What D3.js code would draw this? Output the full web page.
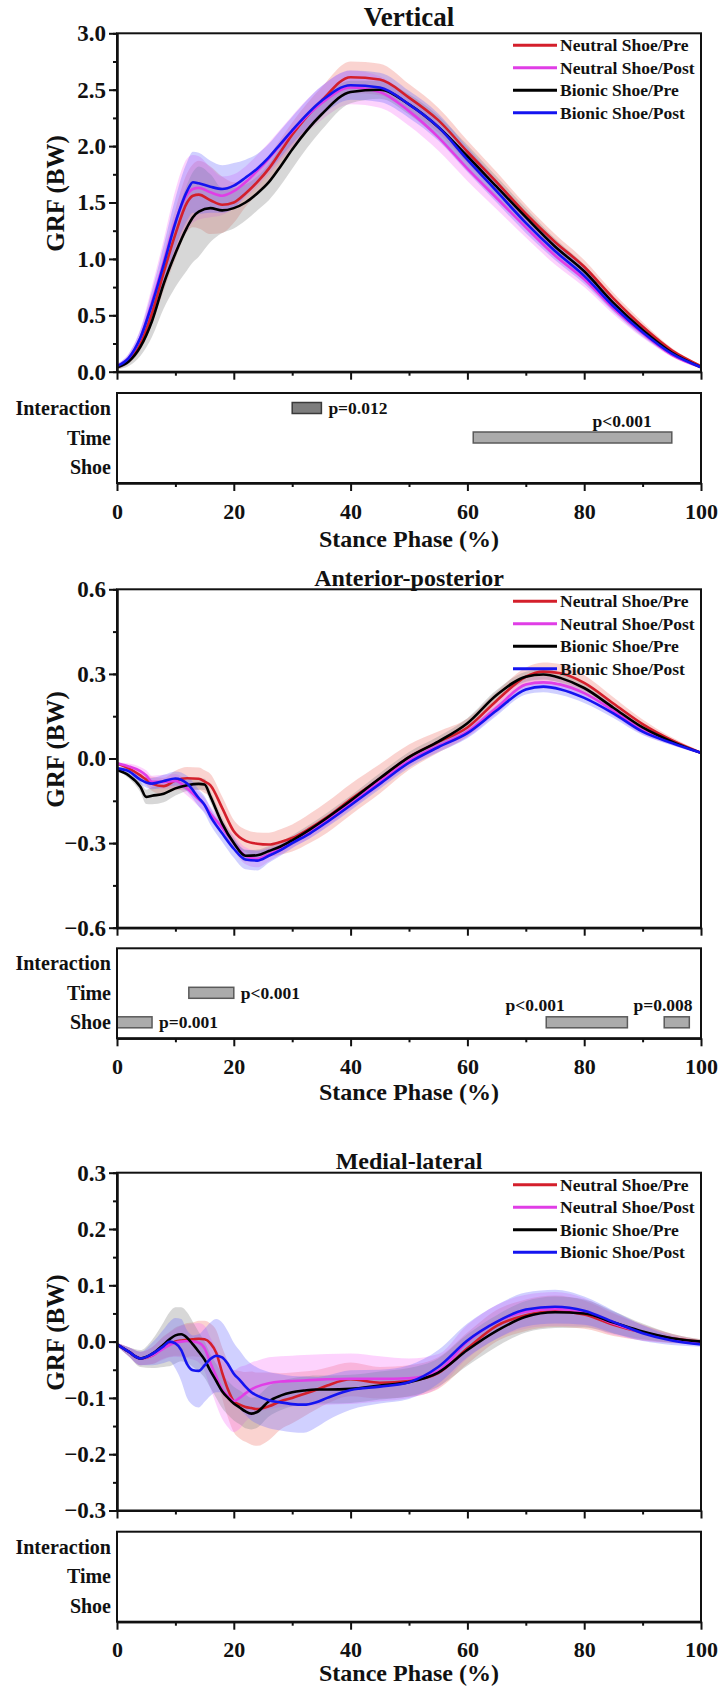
<!DOCTYPE html>
<html>
<head>
<meta charset="utf-8">
<script src="https://cdn.jsdelivr.net/npm/d3@7"></script>
<style>
  body { margin: 0; background: #fff; }
  svg text { font-family: "Liberation Serif", "Times New Roman", serif; font-weight: bold; fill: #111; }
</style>
</head>
<body>
<div id="chart"></div>
<script>
// ---- data ----
const seriesNames = ["Neutral Shoe/Pre", "Neutral Shoe/Post", "Bionic Shoe/Pre", "Bionic Shoe/Post"]
const statRows = ["Interaction", "Time", "Shoe"]
const xTicks = [0, 20, 40, 60, 80, 100]
const xMinorTicks = [10, 30, 50, 70, 90]

// Vertical
const phaseV = [0,2,4,6,8,10,12,13,14,16,18,20,22,24,26,28,30,35,40,45,50,55,60,65,70,75,80,85,90,95,100]
const vNeutralPre   = [0.04,0.10,0.25,0.52,0.88,1.22,1.50,1.56,1.57,1.52,1.48,1.50,1.58,1.68,1.80,1.95,2.10,2.40,2.61,2.59,2.43,2.23,1.95,1.68,1.40,1.15,0.93,0.65,0.40,0.19,0.05]
const vNeutralPost  = [0.05,0.12,0.30,0.62,0.97,1.33,1.57,1.62,1.63,1.59,1.56,1.60,1.68,1.78,1.89,2.01,2.13,2.38,2.52,2.48,2.31,2.08,1.80,1.54,1.28,1.03,0.82,0.56,0.34,0.15,0.04]
const vBionicPre    = [0.04,0.09,0.22,0.45,0.78,1.05,1.28,1.37,1.42,1.45,1.43,1.45,1.50,1.58,1.68,1.82,1.97,2.28,2.48,2.50,2.37,2.17,1.91,1.64,1.37,1.11,0.89,0.61,0.37,0.17,0.04]
const vBionicPost   = [0.05,0.12,0.30,0.60,0.95,1.32,1.60,1.68,1.67,1.64,1.62,1.65,1.72,1.80,1.90,2.02,2.14,2.40,2.54,2.52,2.37,2.17,1.88,1.60,1.32,1.07,0.85,0.58,0.35,0.16,0.04]
const vNeutralPreSD  = [0.02,0.03,0.06,0.10,0.16,0.22,0.26,0.28,0.30,0.30,0.25,0.18,0.12,0.11,0.11,0.11,0.11,0.12,0.14,0.14,0.12,0.11,0.10,0.09,0.08,0.07,0.06,0.05,0.04,0.02,0.01]
const vNeutralPostSD = [0.02,0.04,0.08,0.14,0.20,0.28,0.32,0.30,0.28,0.22,0.17,0.15,0.14,0.14,0.14,0.14,0.14,0.15,0.15,0.14,0.13,0.12,0.11,0.10,0.09,0.08,0.07,0.05,0.04,0.02,0.01]
const vBionicPreSD   = [0.02,0.04,0.08,0.14,0.22,0.30,0.38,0.40,0.40,0.30,0.20,0.18,0.16,0.15,0.16,0.17,0.17,0.14,0.10,0.08,0.09,0.10,0.10,0.09,0.08,0.07,0.06,0.05,0.04,0.02,0.01]
const vBionicPostSD  = [0.02,0.04,0.07,0.12,0.17,0.22,0.26,0.27,0.27,0.23,0.21,0.20,0.16,0.13,0.12,0.12,0.12,0.13,0.13,0.13,0.12,0.12,0.11,0.10,0.09,0.08,0.07,0.05,0.04,0.02,0.01]
const vTicks = [0, 0.5, 1, 1.5, 2, 2.5, 3]

// Anterior-posterior
const phaseAP = [0,2,4,5,6,8,10,12,14,15,16,18,20,22,24,26,28,30,33,36,40,45,50,55,60,65,70,73,76,80,85,90,95,100]
const apNeutralPre  = [-0.018,-0.035,-0.060,-0.075,-0.090,-0.098,-0.078,-0.070,-0.072,-0.082,-0.095,-0.175,-0.258,-0.292,-0.302,-0.305,-0.296,-0.282,-0.248,-0.208,-0.145,-0.072,0.005,0.058,0.110,0.205,0.290,0.308,0.302,0.268,0.195,0.122,0.065,0.020]
const apNeutralPost = [-0.018,-0.028,-0.045,-0.060,-0.083,-0.083,-0.080,-0.106,-0.145,-0.165,-0.195,-0.245,-0.300,-0.345,-0.356,-0.340,-0.320,-0.296,-0.262,-0.220,-0.160,-0.082,-0.008,0.045,0.095,0.180,0.262,0.270,0.262,0.232,0.170,0.100,0.058,0.020]
const apBionicPre   = [-0.040,-0.060,-0.100,-0.136,-0.132,-0.125,-0.106,-0.095,-0.090,-0.092,-0.135,-0.230,-0.300,-0.345,-0.343,-0.328,-0.312,-0.290,-0.252,-0.210,-0.150,-0.070,0.005,0.060,0.125,0.225,0.290,0.298,0.285,0.250,0.180,0.110,0.060,0.020]
const apBionicPost  = [-0.035,-0.045,-0.075,-0.085,-0.089,-0.080,-0.071,-0.089,-0.140,-0.165,-0.205,-0.265,-0.320,-0.358,-0.362,-0.345,-0.325,-0.300,-0.266,-0.225,-0.166,-0.090,-0.015,0.040,0.090,0.170,0.245,0.255,0.245,0.215,0.160,0.095,0.055,0.020]
const apNeutralPreSD  = [0.005,0.010,0.015,0.020,0.025,0.030,0.035,0.040,0.040,0.040,0.040,0.040,0.040,0.040,0.040,0.042,0.045,0.048,0.052,0.055,0.055,0.052,0.045,0.038,0.032,0.032,0.032,0.032,0.032,0.028,0.022,0.016,0.010,0.005]
const apNeutralPostSD = [0.005,0.010,0.015,0.018,0.022,0.025,0.025,0.025,0.025,0.025,0.025,0.025,0.028,0.030,0.030,0.025,0.020,0.020,0.020,0.020,0.020,0.020,0.020,0.020,0.020,0.022,0.022,0.022,0.022,0.020,0.018,0.014,0.010,0.005]
const apBionicPreSD   = [0.005,0.010,0.020,0.025,0.030,0.030,0.025,0.020,0.020,0.020,0.020,0.020,0.020,0.020,0.020,0.018,0.018,0.018,0.018,0.018,0.018,0.018,0.018,0.018,0.018,0.018,0.018,0.018,0.018,0.018,0.015,0.012,0.008,0.004]
const apBionicPostSD  = [0.005,0.010,0.015,0.018,0.020,0.022,0.025,0.028,0.030,0.030,0.030,0.030,0.032,0.035,0.035,0.025,0.020,0.018,0.018,0.018,0.018,0.018,0.018,0.018,0.018,0.018,0.018,0.020,0.020,0.018,0.016,0.012,0.008,0.004]
const apTicks = [-0.6, -0.3, 0, 0.3, 0.6]

// Medial-lateral
const phaseML = [0,2,4,6,8,9,10,11,12,13,14,15,16,17,18,19,20,21,22,23,24,26,28,30,32,34,36,40,45,50,55,60,65,70,75,80,85,90,95,100]
const mlNeutralPre  = [-0.005,-0.018,-0.030,-0.025,-0.010,-0.005,0.000,0.002,0.003,0.004,0.005,0.004,-0.003,-0.020,-0.055,-0.085,-0.106,-0.112,-0.116,-0.118,-0.120,-0.115,-0.106,-0.100,-0.093,-0.086,-0.078,-0.067,-0.073,-0.070,-0.056,-0.012,0.028,0.047,0.054,0.048,0.030,0.016,0.006,0.000]
const mlNeutralPost = [-0.005,-0.018,-0.030,-0.025,-0.012,-0.006,-0.002,0.000,0.001,0.000,-0.002,-0.012,-0.038,-0.062,-0.085,-0.097,-0.106,-0.100,-0.092,-0.085,-0.080,-0.074,-0.071,-0.070,-0.069,-0.068,-0.067,-0.066,-0.066,-0.065,-0.052,0.000,0.035,0.053,0.058,0.052,0.032,0.016,0.005,-0.002]
const mlBionicPre   = [-0.005,-0.018,-0.030,-0.022,-0.005,0.004,0.011,0.013,0.007,-0.005,-0.018,-0.032,-0.052,-0.070,-0.088,-0.100,-0.110,-0.117,-0.124,-0.128,-0.125,-0.106,-0.096,-0.090,-0.087,-0.085,-0.085,-0.084,-0.078,-0.072,-0.055,-0.015,0.019,0.044,0.052,0.050,0.034,0.018,0.006,0.000]
const mlBionicPost  = [-0.005,-0.018,-0.030,-0.022,-0.008,0.000,-0.003,-0.015,-0.040,-0.051,-0.052,-0.042,-0.031,-0.025,-0.028,-0.040,-0.057,-0.068,-0.080,-0.090,-0.096,-0.104,-0.108,-0.111,-0.112,-0.108,-0.100,-0.086,-0.080,-0.072,-0.045,0.002,0.035,0.057,0.062,0.055,0.035,0.015,0.002,-0.005]
const mlNeutralPreSD  = [0.003,0.008,0.012,0.015,0.020,0.022,0.025,0.027,0.030,0.030,0.032,0.033,0.035,0.040,0.045,0.050,0.055,0.060,0.062,0.065,0.065,0.060,0.050,0.045,0.040,0.035,0.032,0.030,0.028,0.028,0.028,0.028,0.028,0.028,0.028,0.025,0.020,0.014,0.008,0.004]
const mlNeutralPostSD = [0.003,0.008,0.012,0.015,0.020,0.022,0.025,0.028,0.030,0.032,0.035,0.040,0.045,0.050,0.052,0.055,0.055,0.055,0.050,0.048,0.046,0.046,0.045,0.045,0.045,0.045,0.045,0.045,0.040,0.035,0.030,0.030,0.030,0.030,0.030,0.025,0.020,0.014,0.008,0.004]
const mlBionicPreSD   = [0.003,0.008,0.015,0.025,0.040,0.048,0.050,0.048,0.045,0.040,0.035,0.032,0.030,0.030,0.030,0.030,0.030,0.030,0.030,0.028,0.028,0.027,0.026,0.025,0.025,0.025,0.025,0.025,0.025,0.025,0.025,0.028,0.028,0.028,0.028,0.025,0.020,0.014,0.008,0.004]
const mlBionicPostSD  = [0.003,0.008,0.012,0.020,0.030,0.035,0.045,0.055,0.060,0.062,0.065,0.065,0.065,0.065,0.062,0.058,0.055,0.052,0.050,0.050,0.050,0.050,0.050,0.050,0.050,0.045,0.040,0.035,0.030,0.030,0.030,0.030,0.030,0.030,0.030,0.025,0.020,0.014,0.008,0.004]
const mlTicks = [-0.3, -0.2, -0.1, 0, 0.1, 0.2, 0.3]

// SPM significance clusters (stance %)
const vertStats = [
    {row: "Interaction", from: 30, to: 35, p: "p=0.012", dark: true, place: "right"},
    {row: "Time", from: 61, to: 95, p: "p<0.001", place: "above", labelAt: 86.5}
]
const apStats = [
    {row: "Time", from: 12.3, to: 20, p: "p<0.001", place: "right"},
    {row: "Shoe", from: 0, to: 6, p: "p=0.001", place: "right"},
    {row: "Shoe", from: 73.5, to: 87.4, p: "p<0.001", place: "above", labelAt: 71.6},
    {row: "Shoe", from: 93.7, to: 98, p: "p=0.008", place: "above", labelAt: 93.5}
]
const mlStats = []

// ---- styling ----
const lineColours = ["#d41f2b", "#e03ee6", "#000000", "#1414f0"]
const bandColours = ["rgba(240,110,100,0.30)", "rgba(250,110,250,0.30)", "rgba(140,140,140,0.35)", "rgba(100,100,255,0.30)"]

const svg = d3.select("#chart").append("svg")
    .attr("width", 718).attr("height", 1688)

const xScale = d3.scaleLinear().domain([0, 100]).range([117, 701])

function drawPanel(cfg) {
    const g = svg.append("g")
    const yScale = d3.scaleLinear().domain(cfg.domain).range([cfg.bottom, cfg.top])

    // bands then mean lines
    const series = cfg.means.map(function (m, i) {
        return cfg.phase.map(function (p, j) { return {p: p, m: m[j], sd: cfg.sds[i][j]} })
    })
    const area = d3.area()
        .x(function (d) { return xScale(d.p) })
        .y0(function (d) { return yScale(d.m - d.sd) })
        .y1(function (d) { return yScale(d.m + d.sd) })
        .curve(d3.curveMonotoneX)
    const line = d3.line()
        .x(function (d) { return xScale(d.p) })
        .y(function (d) { return yScale(d.m) })
        .curve(d3.curveMonotoneX)

    g.selectAll(".band").data(series).enter().append("path")
        .attr("d", area)
        .style("fill", function (d, i) { return bandColours[i] })
        .style("stroke", "none")
    g.selectAll(".mean").data(series).enter().append("path")
        .attr("d", line)
        .style("fill", "none")
        .style("stroke", function (d, i) { return lineColours[i] })
        .style("stroke-width", 2.6)

    // frame
    g.append("rect")
        .attr("x", 117).attr("y", cfg.top)
        .attr("width", 584).attr("height", cfg.bottom - cfg.top)
        .style("fill", "none").style("stroke", "#111").style("stroke-width", 2)

    // y axis
    const minor = d3.range(cfg.domain[0], cfg.domain[1] + 1e-9, cfg.minorStep)
    const yAxis = g.append("g").attr("transform", "translate(117,0)")
        .call(d3.axisLeft(yScale).tickValues(cfg.ticks).tickSize(8).tickSizeOuter(0).tickPadding(3)
            .tickFormat(d3.format(".1f")))
    g.append("g").attr("transform", "translate(117,0)")
        .call(d3.axisLeft(yScale).tickValues(minor).tickSize(4).tickSizeOuter(0).tickFormat(""))

    // x axis under main plot, no labels
    g.append("g").attr("transform", "translate(0," + cfg.bottom + ")")
        .call(d3.axisBottom(xScale).tickValues(xTicks).tickSize(8).tickSizeOuter(0).tickFormat(""))
    g.append("g").attr("transform", "translate(0," + cfg.bottom + ")")
        .call(d3.axisBottom(xScale).tickValues(xMinorTicks).tickSize(4).tickSizeOuter(0).tickFormat(""))

    g.selectAll(".domain").style("stroke", "#111").style("stroke-width", 2)
    g.selectAll(".tick line").style("stroke", "#111").style("stroke-width", 2)
    yAxis.selectAll("text").style("font-size", "23px").style("fill", "#111")
        .style("font-family", "'Liberation Serif', serif").style("font-weight", "bold")

    // title and y label
    g.append("text").attr("x", 409).attr("y", cfg.top - cfg.titleGap).attr("dy", "0.35em")
        .attr("text-anchor", "middle").style("font-size", cfg.titleSize + "px").text(cfg.title)
    g.append("text")
        .attr("transform", "translate(55," + ((cfg.top + cfg.bottom) / 2 - 9) + ") rotate(-90)")
        .attr("dy", "0.35em").attr("text-anchor", "middle").style("font-size", "25px")
        .text("GRF (BW)")

    // legend
    const leg = g.selectAll(".leg").data(seriesNames).enter().append("g")
        .attr("transform", function (d, i) { return "translate(0," + (cfg.top + 12 + i * 22.5) + ")" })
    leg.append("line").attr("x1", 513).attr("x2", 557)
        .style("stroke", function (d, i) { return lineColours[i] }).style("stroke-width", 3)
    leg.append("text").attr("x", 560).attr("dy", "0.35em").style("font-size", "17.5px")
        .text(function (d) { return d })

    // statistics box
    const rowScale = d3.scalePoint().domain(statRows).range([cfg.statTop + 15, cfg.statTop + 74])
    g.selectAll(".bar").data(cfg.stats).enter().append("rect")
        .attr("x", function (d) { return xScale(d.from) })
        .attr("width", function (d) { return xScale(d.to) - xScale(d.from) })
        .attr("y", function (d) { return rowScale(d.row) - 5.5 })
        .attr("height", 11)
        .style("fill", function (d) { return d.dark ? "#7d7d7d" : "#ababab" })
        .style("stroke", function (d) { return d.dark ? "#3a3a3a" : "#5a5a5a" })
        .style("stroke-width", 1.5)
    g.selectAll(".plab").data(cfg.stats).enter().append("text")
        .attr("x", function (d) { return d.place === "right" ? xScale(d.to) + 7 : xScale(d.labelAt) })
        .attr("y", function (d) { return d.place === "right" ? rowScale(d.row) : rowScale(d.row) - 17 })
        .attr("dy", "0.35em")
        .attr("text-anchor", function (d) { return d.place === "right" ? "start" : "middle" })
        .style("font-size", "17.5px")
        .text(function (d) { return d.p })

    g.selectAll(".rowlab").data(statRows).enter().append("text")
        .attr("x", 111).attr("y", function (d) { return rowScale(d) }).attr("dy", "0.35em")
        .attr("text-anchor", "end").style("font-size", "20px").text(function (d) { return d })

    g.append("rect")
        .attr("x", 117).attr("y", cfg.statTop)
        .attr("width", 584).attr("height", cfg.statBottom - cfg.statTop)
        .style("fill", "none").style("stroke", "#111").style("stroke-width", 2)

    const xAxis = g.append("g").attr("transform", "translate(0," + cfg.statBottom + ")")
        .call(d3.axisBottom(xScale).tickValues(xTicks).tickSize(8).tickSizeOuter(0).tickPadding(12))
    g.append("g").attr("transform", "translate(0," + cfg.statBottom + ")")
        .call(d3.axisBottom(xScale).tickValues(xMinorTicks).tickSize(4).tickSizeOuter(0).tickFormat(""))
    g.selectAll(".domain").style("stroke", "#111").style("stroke-width", 2)
    g.selectAll(".tick line").style("stroke", "#111").style("stroke-width", 2)
    xAxis.selectAll("text").style("font-size", "22px").style("fill", "#111")
        .style("font-family", "'Liberation Serif', serif").style("font-weight", "bold")

    g.append("text").attr("x", 409).attr("y", cfg.statBottom + cfg.xLabelGap)
        .attr("text-anchor", "middle").style("font-size", "24px").text("Stance Phase (%)")
}

drawPanel({
    title: "Vertical", titleSize: 27, titleGap: 17, xLabelGap: 64,
    top: 33.3, bottom: 371.7, statTop: 393, statBottom: 483,
    domain: [0, 3], ticks: vTicks, minorStep: 0.25, phase: phaseV,
    means: [vNeutralPre, vNeutralPost, vBionicPre, vBionicPost],
    sds: [vNeutralPreSD, vNeutralPostSD, vBionicPreSD, vBionicPostSD],
    stats: vertStats
})
drawPanel({
    title: "Anterior-posterior", titleSize: 24, titleGap: 12, xLabelGap: 62,
    top: 589.3, bottom: 927.7, statTop: 948.3, statBottom: 1038.3,
    domain: [-0.6, 0.6], ticks: apTicks, minorStep: 0.15, phase: phaseAP,
    means: [apNeutralPre, apNeutralPost, apBionicPre, apBionicPost],
    sds: [apNeutralPreSD, apNeutralPostSD, apBionicPreSD, apBionicPostSD],
    stats: apStats
})
drawPanel({
    title: "Medial-lateral", titleSize: 24, titleGap: 12, xLabelGap: 59,
    top: 1172.7, bottom: 1510.5, statTop: 1531.7, statBottom: 1621.7,
    domain: [-0.3, 0.3], ticks: mlTicks, minorStep: 0.05, phase: phaseML,
    means: [mlNeutralPre, mlNeutralPost, mlBionicPre, mlBionicPost],
    sds: [mlNeutralPreSD, mlNeutralPostSD, mlBionicPreSD, mlBionicPostSD],
    stats: mlStats
})
</script>
</body>
</html>
